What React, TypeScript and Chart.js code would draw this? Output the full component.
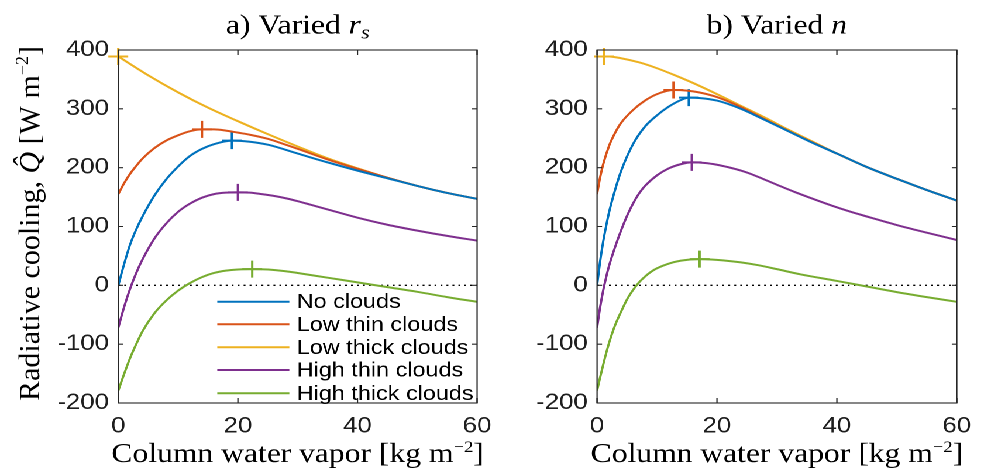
import React, { useEffect, useRef } from "react";
import { Chart, registerables } from "chart.js";

Chart.register(...registerables);

// ---------------- shared ----------------
const seriesNames = ["No clouds", "Low thin clouds", "Low thick clouds", "High thin clouds", "High thick clouds"];
const seriesColors = ["#0072BD", "#D95319", "#EDB120", "#7E2F8E", "#77AC30"];
const xMin = 0;
const xMax = 60;
const xStep = 20;
const yMin = -200;
const yMax = 400;
const yStep = 100;

// ---------------- panel a: varied r_s ----------------
const aNoCloudsX = [0, 1, 2, 3, 4, 6, 8, 10, 12, 14, 16, 19, 22, 25, 30, 35, 40, 45, 50, 55, 60];
const aNoCloudsY = [0, 37, 70, 95, 116, 152, 180, 202, 220, 232, 240, 246, 244, 239, 224, 209, 195, 182, 169, 157, 147];
const aLowThinX = [0, 1, 2, 3, 4, 6, 8, 10, 12, 14, 16, 18, 20, 22, 25, 28, 30, 35, 40, 45, 50, 55, 60];
const aLowThinY = [155, 174, 190, 203, 215, 233, 246, 255, 262, 265, 265, 263, 259.5, 256, 249, 239, 232, 214, 198, 183, 169, 157, 147];
const aLowThickX = [0, 5, 10, 15, 20, 25, 30, 35, 40, 45, 50, 55, 60];
const aLowThickY = [389, 357, 328, 302, 279, 257, 236, 216, 199, 183, 169, 157, 147];
const aHighThinX = [0, 1, 2, 3, 4, 6, 8, 10, 12, 14, 16, 18, 20, 22, 24, 26, 28, 30, 32, 35, 40, 45, 50, 55, 60];
const aHighThinY = [-72, -36, -5, 21, 43, 79, 105, 125, 139, 149, 155, 157.5, 158, 157.5, 155, 152, 148, 143, 137.5, 129, 115, 103, 93, 84, 76];
const aHighThickX = [0, 1, 2, 3, 4, 6, 8, 10, 12, 14, 16, 18, 20, 22, 25, 28, 30, 35, 40, 45, 50, 55, 60];
const aHighThickY = [-179, -150, -123, -100, -79, -48, -26, -9, 4, 14, 21, 25, 27, 27.5, 27, 24, 21, 13, 5, -3, -11, -20, -28];
const aPeakX = [19, 14, 0, 20, 22.4];
const aPeakY = [246, 265, 389, 158, 27.5];

// ---------------- panel b: varied n ----------------
const bNoCloudsX = [0, 0.5, 1, 1.5, 2, 3, 4, 6, 8, 10, 12, 14, 15.3, 17, 20, 24, 28, 32, 36, 40, 45, 50, 55, 60];
const bNoCloudsY = [0, 40, 73, 100, 124, 162, 194, 240, 270, 289, 304, 315, 319, 318.5, 314, 300, 281, 261.5, 242, 224, 201, 181, 162, 144];
const bLowThinX = [0, 0.5, 1, 2, 3, 4, 6, 8, 10, 12.75, 15, 17, 20, 24, 28, 32, 36, 40, 45, 50, 55, 60];
const bLowThinY = [155, 183, 205, 237, 259, 276, 298, 314, 325, 332, 331, 328, 320, 303, 282, 262, 242.5, 224, 201, 181, 162, 144];
const bLowThickX = [0, 2, 4, 7, 10, 13, 16, 20, 24, 28, 32, 36, 40, 45, 50, 55, 60];
const bLowThickY = [389, 389, 386, 379, 369, 357, 344, 325, 305, 285, 264, 244, 224, 201, 181, 162, 144];
const bHighThinX = [0, 0.5, 1, 1.5, 2, 3, 4, 5, 6, 7, 8, 10, 12, 14, 15.8, 18, 20, 22, 24, 26, 28, 30, 33, 36, 39, 42, 45, 50, 55, 60];
const bHighThinY = [-72, -38, -10, 13, 33, 65, 93, 118, 139, 156, 169, 187, 199, 206, 209, 208, 205, 200.5, 195, 188, 179.5, 171, 158.5, 147, 136, 126, 117, 102.5, 89.5, 77];
const bHighThickX = [0, 0.5, 1, 1.5, 2, 3, 4, 5, 6, 7, 8, 9, 10, 12, 14, 17, 19, 21, 24, 27, 30, 34, 40, 45, 50, 55, 60];
const bHighThickY = [-179, -157, -136, -116, -98, -68, -45, -24, -8, 5, 15, 23, 29, 37, 42, 44.5, 44, 42.5, 39, 34, 27.5, 18.5, 7.5, -2, -11.5, -20, -28];
const bPeakX = [15.3, 12.75, 1.2, 15.8, 17.1];
const bPeakY = [319, 332, 389, 209, 44.5];

// ---------------- layout / style ----------------
const S = 1.17; // horizontal stretch of the whole figure
const SERIF = '"Liberation Serif", "Times New Roman", serif';
const SANS = '"Liberation Sans", Arial, Helvetica, sans-serif';
const AXIS_COLOR = "#1e1e1e";

type Seg = { t: string; font: string; dy?: number };

function drawRich(ctx: CanvasRenderingContext2D, segs: Seg[], cx: number, y: number) {
  let w = 0;
  for (const s of segs) {
    ctx.font = s.font;
    w += ctx.measureText(s.t).width;
  }
  let x = cx - w / 2;
  ctx.textAlign = "left";
  ctx.textBaseline = "alphabetic";
  for (const s of segs) {
    ctx.font = s.font;
    ctx.fillText(s.t, x, y + (s.dy || 0));
    x += ctx.measureText(s.t).width;
  }
}

type Panel = {
  key: string;
  lines: { x: number[]; y: number[] }[];
  peakX: number[];
  peakY: number[];
  title: Seg[];
  yAxisWidth: number;
  rightPad: number;
  showYTitle: boolean;
  showLegend: boolean;
  screenLeft: number;
};

const panelA: Panel = {
  key: "a",
  lines: [
    { x: aNoCloudsX, y: aNoCloudsY },
    { x: aLowThinX, y: aLowThinY },
    { x: aLowThickX, y: aLowThickY },
    { x: aHighThinX, y: aHighThinY },
    { x: aHighThickX, y: aHighThickY },
  ],
  peakX: aPeakX,
  peakY: aPeakY,
  title: [
    { t: "a) Varied ", font: `27px ${SERIF}` },
    { t: "r", font: `italic 27px ${SERIF}` },
    { t: "s", font: `italic 19px ${SERIF}`, dy: 5 },
  ],
  yAxisWidth: 101.1,
  rightPad: 17.4,
  showYTitle: true,
  showLegend: true,
  screenLeft: 0,
};

const panelB: Panel = {
  key: "b",
  lines: [
    { x: bNoCloudsX, y: bNoCloudsY },
    { x: bLowThinX, y: bLowThinY },
    { x: bLowThickX, y: bLowThickY },
    { x: bHighThinX, y: bHighThinY },
    { x: bHighThickX, y: bHighThickY },
  ],
  peakX: bPeakX,
  peakY: bPeakY,
  title: [
    { t: "b) Varied ", font: `27px ${SERIF}` },
    { t: "n", font: `italic 27px ${SERIF}` },
  ],
  yAxisWidth: 90.3,
  rightPad: 20.1,
  showYTitle: false,
  showLegend: false,
  screenLeft: 420,
};

function makePlugin(panel: Panel) {
  return {
    id: "matlabFrame" + panel.key,
    beforeDatasetsDraw(chart: any) {
      const { ctx, chartArea } = chart;
      const y0 = chart.scales.y.getPixelForValue(0);
      ctx.save();
      ctx.strokeStyle = "#000";
      ctx.lineWidth = 1.3;
      ctx.setLineDash([1.6, 3.5]);
      ctx.beginPath();
      ctx.moveTo(chartArea.left, y0);
      ctx.lineTo(chartArea.right, y0);
      ctx.stroke();
      ctx.restore();
    },
    afterDatasetsDraw(chart: any) {
      const { ctx, chartArea } = chart;
      const { left, right, top, bottom } = chartArea;
      const xs = chart.scales.x;
      const ys = chart.scales.y;
      ctx.save();
      ctx.setLineDash([]);
      ctx.strokeStyle = "#262626";
      ctx.lineWidth = 1.1;
      ctx.strokeRect(left, top, right - left, bottom - top);
      ctx.beginPath();
      xs.ticks.forEach((t: any) => {
        const p = xs.getPixelForValue(t.value);
        ctx.moveTo(p, bottom);
        ctx.lineTo(p, bottom - 5);
        ctx.moveTo(p, top);
        ctx.lineTo(p, top + 5);
      });
      ys.ticks.forEach((t: any) => {
        const p = ys.getPixelForValue(t.value);
        ctx.moveTo(left, p);
        ctx.lineTo(left + 4.3, p);
        ctx.moveTo(right, p);
        ctx.lineTo(right - 4.3, p);
      });
      ctx.stroke();

      // legend (inside panel a)
      if (panel.showLegend) {
        const rows = [301.7, 324.3, 347.3, 370, 393.3];
        const lx0 = 185.7;
        const lx1 = 247.3;
        const tx = 253.6;
        ctx.lineWidth = 2;
        ctx.font = `20px ${SANS}`;
        ctx.textAlign = "left";
        ctx.textBaseline = "middle";
        seriesNames.forEach((name, i) => {
          ctx.strokeStyle = seriesColors[i];
          ctx.beginPath();
          ctx.moveTo(lx0, rows[i]);
          ctx.lineTo(lx1, rows[i]);
          ctx.stroke();
          ctx.fillStyle = "#000";
          ctx.fillText(name, tx, rows[i] + 1);
        });
      }

      // panel title
      ctx.fillStyle = "#000";
      drawRich(ctx, panel.title, (left + right) / 2, 33.3);

      // x axis title
      drawRich(
        ctx,
        [
          { t: "Column water vapor [kg m", font: `27px ${SERIF}` },
          { t: "\u22122", font: `16px ${SERIF}`, dy: -10 },
          { t: "]", font: `27px ${SERIF}` },
        ],
        (left + right) / 2,
        462
      );

      // y axis title (drawn un-stretched)
      if (panel.showYTitle) {
        ctx.save();
        ctx.scale(1 / S, 1);
        ctx.translate(39.3, 223.5);
        ctx.rotate(-Math.PI / 2);
        drawRich(
          ctx,
          [
            { t: "Radiative cooling, ", font: `30px ${SERIF}` },
            { t: "Q\u0302", font: `italic 30px ${SERIF}` },
            { t: " [W m", font: `30px ${SERIF}` },
            { t: "\u22122", font: `18px ${SERIF}`, dy: -11 },
            { t: "]", font: `30px ${SERIF}` },
          ],
          0,
          0
        );
        ctx.restore();
      }
      ctx.restore();
    },
  };
}

function buildConfig(panel: Panel): any {
  const datasets: any[] = [];
  panel.lines.forEach((ln, i) => {
    datasets.push({
      label: seriesNames[i],
      data: ln.x.map((x, j) => ({ x, y: ln.y[j] })),
      borderColor: seriesColors[i],
      backgroundColor: seriesColors[i],
      borderWidth: 2,
      pointRadius: 0,
      pointHoverRadius: 0,
      cubicInterpolationMode: "monotone",
      fill: false,
    });
  });
  panel.peakX.forEach((px, i) => {
    datasets.push({
      label: seriesNames[i] + " max",
      data: [{ x: px, y: panel.peakY[i] }],
      showLine: false,
      pointStyle: "cross",
      pointRadius: 8.5,
      pointHoverRadius: 8.5,
      borderColor: seriesColors[i],
      backgroundColor: seriesColors[i],
      borderWidth: 2,
      clip: false,
    });
  });
  return {
    type: "line",
    data: { datasets },
    options: {
      animation: false,
      responsive: false,
      devicePixelRatio: 2,
      events: [],
      layout: { padding: { left: 0, right: panel.rightPad, top: 50, bottom: 0 } },
      plugins: { legend: { display: false }, tooltip: { enabled: false }, title: { display: false } },
      scales: {
        x: {
          type: "linear",
          min: xMin,
          max: xMax,
          grid: { display: false, drawTicks: false },
          border: { display: false },
          ticks: {
            stepSize: xStep,
            padding: 10,
            color: AXIS_COLOR,
            font: { family: SANS, size: 22 },
            maxRotation: 0,
            callback: (v: any) => String(v),
          },
          afterFit: (s: any) => {
            s.height = 67;
          },
        },
        y: {
          type: "linear",
          min: yMin,
          max: yMax,
          grid: { display: false, drawTicks: false },
          border: { display: false },
          ticks: {
            stepSize: yStep,
            padding: 8,
            color: AXIS_COLOR,
            font: { family: SANS, size: 22 },
            callback: (v: any) => String(v),
          },
          afterFit: (s: any) => {
            s.width = panel.yAxisWidth;
          },
        },
      },
    },
    plugins: [makePlugin(panel)],
  };
}

export default function App() {
  const refA = useRef<HTMLCanvasElement>(null);
  const refB = useRef<HTMLCanvasElement>(null);
  useEffect(() => {
    const a = new Chart(refA.current as HTMLCanvasElement, buildConfig(panelA));
    const b = new Chart(refB.current as HTMLCanvasElement, buildConfig(panelB));
    return () => {
      a.destroy();
      b.destroy();
    };
  }, []);
  return (
    <div style={{ position: "fixed", left: 0, top: 0, width: 983, height: 470, background: "#fff", overflow: "hidden" }}>
      <div
        style={{
          position: "absolute",
          left: 0,
          top: 0,
          width: 840,
          height: 470,
          transform: `scaleX(${S})`,
          transformOrigin: "0 0",
        }}
      >
        <canvas ref={refA} width={430} height={470} style={{ position: "absolute", left: panelA.screenLeft, top: 0 }} />
        <canvas ref={refB} width={420} height={470} style={{ position: "absolute", left: panelB.screenLeft, top: 0 }} />
      </div>
    </div>
  );
}
